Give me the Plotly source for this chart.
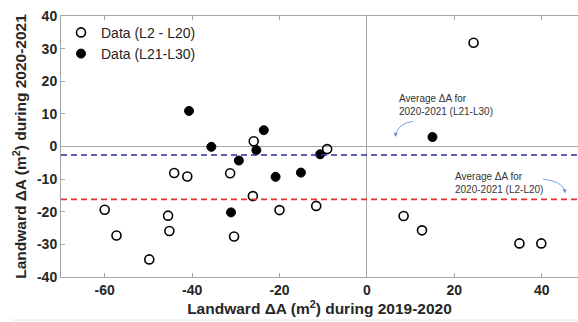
import plotly.graph_objects as go

# Data (L2 - L20): open circles
open_x = [-60.0, -57.3, -49.8, -45.5, -45.2, -44.1, -41.1, -31.3, -30.4, -26.1,
          -25.9, -20.0, -11.6, -9.1, 8.4, 12.6, 24.4, 34.9, 39.9]
open_y = [-19.4, -27.3, -34.6, -21.2, -25.9, -8.1, -9.2, -8.2, -27.6, -15.2,
          1.6, -19.5, -18.2, -0.8, -21.3, -25.7, 31.8, -29.7, -29.7]

# Data (L21-L30): filled circles
fill_x = [-40.7, -35.6, -31.1, -29.3, -25.3, -23.6, -20.9, -15.1, -10.7, 15.0]
fill_y = [10.9, -0.1, -20.2, -4.3, -1.1, 5.0, -9.3, -8.0, -2.4, 2.9]

# Average lines
avg_l21_l30 = -2.6
avg_l2_l20 = -16.2

x_tickvals = [-60, -40, -20, 0, 20, 40]
x_ticktext = ["-60", "-40", "-20", "0", "20", "40"]
y_tickvals = [-40, -30, -20, -10, 0, 10, 20, 30, 40]
y_ticktext = ["-40", "-30", "-20", "-10", "0", "10", "20", "30", "40"]

FONT = "Liberation Sans, Arial, sans-serif"
AX = "#a6a6a6"
TXT = "#262626"
ARROW = "#5a8ad6"

fig = go.Figure()
fig.add_trace(go.Scatter(
    x=open_x, y=open_y, mode="markers", name="Data (L2 - L20)",
    marker=dict(symbol="circle-open", size=9, color="black", line=dict(width=1.6, color="black")),
))
fig.add_trace(go.Scatter(
    x=fill_x, y=fill_y, mode="markers", name="Data (L21-L30)",
    marker=dict(symbol="circle", size=9, color="black", line=dict(width=1, color="black")),
))

fig.add_shape(type="line", xref="paper", x0=0, x1=1, yref="y", y0=avg_l21_l30, y1=avg_l21_l30,
              line=dict(color="#2e2e9a", width=1.6, dash="6px,4px"))
fig.add_shape(type="line", xref="paper", x0=0, x1=1, yref="y", y0=avg_l2_l20, y1=avg_l2_l20,
              line=dict(color="#e8302c", width=1.6, dash="6px,4px"))

# curved arrows with small heads
fig.add_shape(type="path", xref="x", yref="y",
              path="M 10.6,7.7 Q 7.4,7.2 6.65,4.0",
              line=dict(color=ARROW, width=0.8))
fig.add_shape(type="path", xref="x", yref="y",
              path="M 6.5,3.1 L 6.22,4.1 L 6.98,4.0 Z",
              line=dict(color=ARROW, width=0.5), fillcolor=ARROW)
fig.add_shape(type="path", xref="x", yref="y",
              path="M 40.3,-10.0 Q 44.4,-10.6 45.2,-13.3",
              line=dict(color=ARROW, width=0.8))
fig.add_shape(type="path", xref="x", yref="y",
              path="M 45.3,-14.2 L 44.85,-13.25 L 45.6,-13.2 Z",
              line=dict(color=ARROW, width=0.5), fillcolor=ARROW)

fig.add_annotation(x=6.9, y=16.9, xanchor="left", yanchor="top", align="left", showarrow=False,
                   text="Average ΔA for<br>2020-2021 (L21-L30)",
                   font=dict(family=FONT, size=10, color="#333333"))
fig.add_annotation(x=19.7, y=-6.9, xanchor="left", yanchor="top", align="left", showarrow=False,
                   text="Average ΔA for<br>2020-2021 (L2-L20)",
                   font=dict(family=FONT, size=10, color="#333333"))

# faint bottom rule
fig.add_shape(type="line", xref="paper", yref="paper", x0=-0.095, x1=1, y0=-0.165, y1=-0.165,
              line=dict(color="#e6e6e6", width=1))

fig.update_layout(
    width=578, height=322,
    margin=dict(l=61, r=0, t=16, b=45),
    paper_bgcolor="white", plot_bgcolor="white",
    font=dict(family=FONT, color=TXT),
    showlegend=True,
    legend=dict(x=0.0, y=0.997, xanchor="left", yanchor="top", bgcolor="rgba(0,0,0,0)",
                font=dict(family=FONT, size=14, color=TXT), tracegroupgap=0),
    xaxis=dict(range=[-70, 48.3], tickvals=x_tickvals, ticktext=x_ticktext,
               showgrid=False, zeroline=True, zerolinecolor=AX, zerolinewidth=1,
               showline=True, linecolor=AX, linewidth=1, mirror="ticks",
               ticks="inside", ticklen=4, tickcolor=AX,
               tickfont=dict(family=FONT, size=14, color=TXT, weight="bold"),
               title=dict(text="<b>Landward ΔA (m<sup>2</sup>) during 2019-2020</b>",
                          font=dict(family=FONT, size=15.5, color=TXT), standoff=4),
               automargin=False),
    yaxis=dict(range=[-40, 40], tickvals=y_tickvals, ticktext=y_ticktext,
               showgrid=False, zeroline=True, zerolinecolor=AX, zerolinewidth=1,
               showline=True, linecolor=AX, linewidth=1, mirror=False,
               ticks="inside", ticklen=4, tickcolor=AX,
               tickfont=dict(family=FONT, size=14, color=TXT, weight="bold"),
               title=dict(text="<b>Landward ΔA (m<sup>2</sup>) during 2020-2021</b>",
                          font=dict(family=FONT, size=15.5, color=TXT), standoff=6),
               automargin=False),
)

fig.write_html("out.html", config={"displayModeBar": False},
               post_script="document.body.style.margin='0';")
